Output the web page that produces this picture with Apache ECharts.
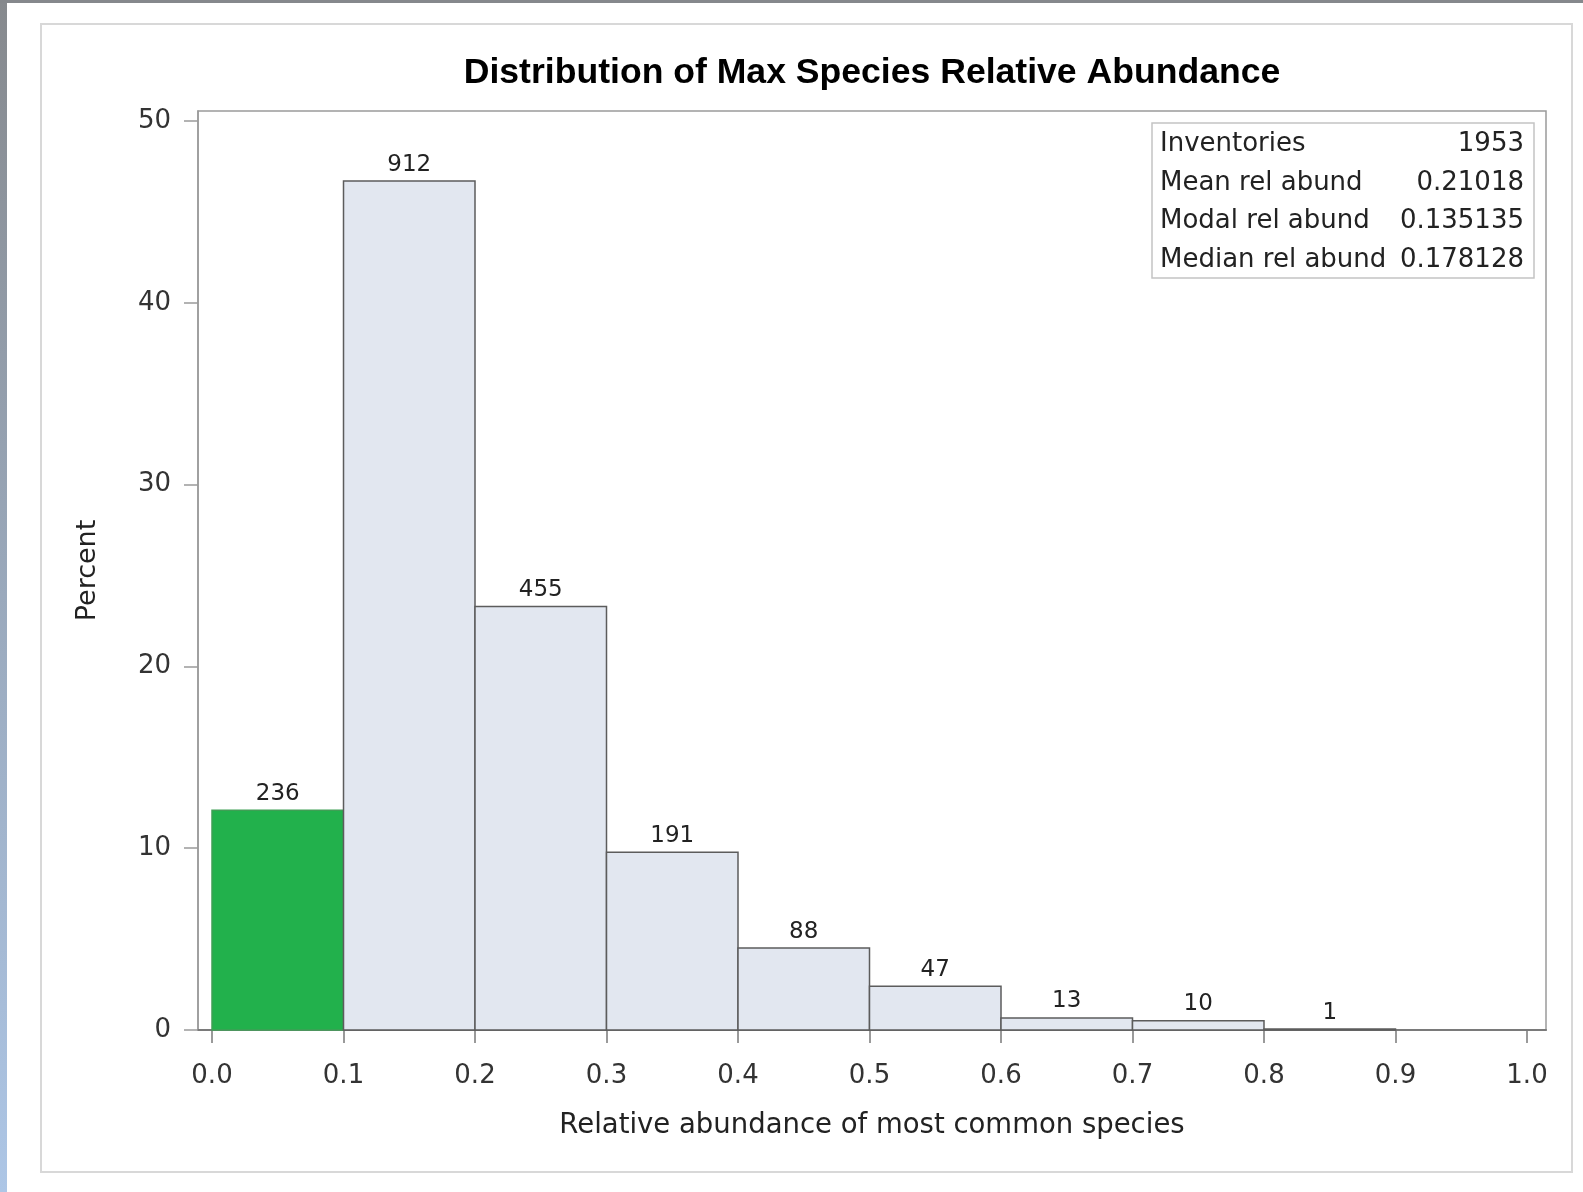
<!DOCTYPE html>
<html>
<head>
<meta charset="utf-8">
<script src="https://cdn.jsdelivr.net/npm/echarts@6/dist/echarts.min.js"></script>
<style>
html,body{margin:0;padding:0;background:#fff;}
#chart{width:1583px;height:1192px;}
</style>
</head>
<body>
<div id="chart"></div>
<script>
// ---- data ----
const binStarts = [0.0, 0.1, 0.2, 0.3, 0.4, 0.5, 0.6, 0.7, 0.8];
const binEnds   = [0.1, 0.2, 0.3, 0.4, 0.5, 0.6, 0.7, 0.8, 0.9];
const binCounts = [236, 912, 455, 191, 88, 47, 13, 10, 1];
const totalCount = 1953;
const highlightBin = 0;
const xTickValues = [0.0, 0.1, 0.2, 0.3, 0.4, 0.5, 0.6, 0.7, 0.8, 0.9, 1.0];
const yTickValues = [0, 10, 20, 30, 40, 50];
const statLabels = ['Inventories', 'Mean rel abund', 'Modal rel abund', 'Median rel abund'];
const statValues = ['1953', '0.21018', '0.135135', '0.178128'];
const titleText = 'Distribution of Max Species Relative Abundance';
const xTitle = 'Relative abundance of most common species';
const yTitle = 'Percent';

const seriesData = binCounts.map((c, i) => [binStarts[i], binEnds[i], c / totalCount * 100, c]);

const FONT = 'DejaVu Sans';
const chart = echarts.init(document.getElementById('chart'), null, {renderer: 'canvas'});

const statGraphics = [];
const boxX = 1152, boxY = 123, boxW = 382, boxH = 155;
statGraphics.push({type: 'rect', z: 100, shape: {x: boxX, y: boxY, width: boxW, height: boxH},
  style: {fill: '#fff', stroke: '#c4c4c4', lineWidth: 1.5}});
const rowY = [144, 183, 221, 260];
statLabels.forEach((lab, i) => {
  statGraphics.push({type: 'text', z: 101, x: 1160, y: rowY[i],
    style: {text: lab, align: 'left', verticalAlign: 'middle', font: '26px "DejaVu Sans"', fill: '#222'}});
  statGraphics.push({type: 'text', z: 101, x: 1524, y: rowY[i],
    style: {text: statValues[i], align: 'right', verticalAlign: 'middle', font: '26px "DejaVu Sans"', fill: '#222'}});
});

const option = {
  backgroundColor: '#fff',
  animation: false,
  grid: {left: 198, top: 111, width: 1348, height: 919, show: true, borderColor: '#9a9a9a', borderWidth: 1.5, backgroundColor: '#fff', containLabel: false},
  xAxis: {
    type: 'value', min: -0.01065, max: 1.01445,
    name: xTitle, nameLocation: 'middle', nameGap: 82,
    nameTextStyle: {fontFamily: FONT, fontSize: 27.5, color: '#222'},
    axisLine: {show: true, onZero: false, lineStyle: {color: '#7a7a7a', width: 2}},
    axisTick: {show: true, length: 13, customValues: xTickValues, lineStyle: {color: '#7a7a7a', width: 1.5}},
    axisLabel: {customValues: xTickValues, margin: 33, fontFamily: FONT, fontSize: 26, color: '#333',
      formatter: v => v.toFixed(1)},
    splitLine: {show: false}
  },
  yAxis: {
    type: 'value', min: 0, max: 50.55,
    name: yTitle, nameLocation: 'middle', nameGap: 97, nameRotate: 90,
    nameTextStyle: {fontFamily: FONT, fontSize: 27, color: '#222'},
    axisLine: {show: true, onZero: false, lineStyle: {color: '#9a9a9a', width: 1.5}},
    axisTick: {show: true, length: 14, customValues: yTickValues, lineStyle: {color: '#9a9a9a', width: 1.5}},
    axisLabel: {customValues: yTickValues, margin: 27, fontFamily: FONT, fontSize: 26, color: '#333'},
    splitLine: {show: false}
  },
  graphic: [
    {type: 'rect', z: -10, silent: true, shape: {x: 41, y: 24, width: 1531, height: 1148},
      style: {fill: 'none', stroke: '#d8d8d8', lineWidth: 2}},
    {type: 'rect', z: 100, shape: {x: 0, y: 0, width: 7, height: 1192},
      style: {fill: new echarts.graphic.LinearGradient(0, 0, 0, 1, [
        {offset: 0, color: '#86898d'}, {offset: 0.5, color: '#9aa9bc'}, {offset: 1, color: '#adc6e6'}])}},
    {type: 'rect', z: 100, shape: {x: 0, y: 0, width: 1583, height: 3}, style: {fill: '#85888c'}},
    {type: 'text', z: 100, x: 872, y: 73,
      style: {text: titleText, align: 'center', verticalAlign: 'middle', font: 'bold 35.6px "Liberation Sans"', fill: '#000'}}
  ].concat(statGraphics),
  series: [{
    type: 'custom',
    data: seriesData,
    encode: {x: [0, 1], y: 2},
    clip: false,
    renderItem: function (params, api) {
      const x0 = api.value(0), x1 = api.value(1), y = api.value(2), c = api.value(3);
      const p0 = api.coord([x0, 0]);
      const p1 = api.coord([x1, y]);
      const hl = params.dataIndex === highlightBin;
      return {
        type: 'group',
        z2: hl ? 0 : 1,
        children: [
          {type: 'rect', shape: {x: p0[0], y: p1[1], width: p1[0] - p0[0], height: p0[1] - p1[1]},
            style: {fill: hl ? '#22b14c' : '#e2e7f0', stroke: hl ? '#3f9f55' : '#5c5c5c', lineWidth: 1.5}},
          {type: 'text', style: {text: String(c), x: (p0[0] + p1[0]) / 2, y: p1[1] - 5,
            align: 'center', verticalAlign: 'bottom', font: '23px "DejaVu Sans"', fill: '#222'}}
        ]
      };
    }
  }]
};
chart.setOption(option);
</script>
</body>
</html>
